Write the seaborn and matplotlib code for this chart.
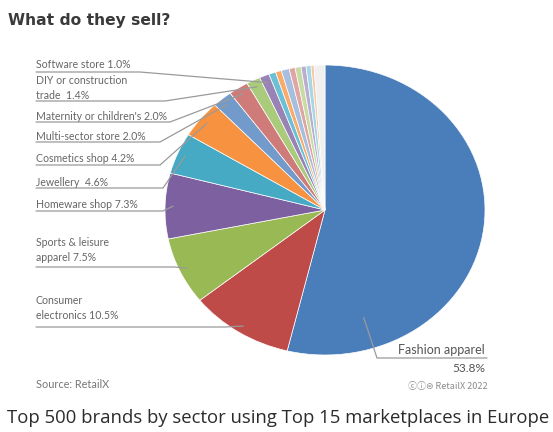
import matplotlib
matplotlib.use("Agg")
import matplotlib.pyplot as plt
import seaborn as sns
import numpy as np
from matplotlib.lines import Line2D

# --- data -------------------------------------------------------------
sectors = [
    "Fashion apparel", "Consumer electronics", "Sports & leisure apparel",
    "Homeware shop", "Jewellery", "Cosmetics shop", "Multi-sector store",
    "Maternity or children's", "DIY or construction trade", "Software store",
]
shares = [53.8, 10.5, 7.5, 7.3, 4.6, 4.2, 2.0, 2.0, 1.4, 1.0]
# smaller unlabelled sectors, in drawing order
minor_shares = [0.7, 0.6, 0.8, 0.6, 0.6, 0.5, 0.5, 0.3, 1.1]

label_texts = [
    "Fashion apparel\n53.8%", "Consumer\nelectronics 10.5%",
    "Sports & leisure\napparel 7.5%", "Homeware shop 7.3%", "Jewellery  4.6%",
    "Cosmetics shop 4.2%", "Multi-sector store 2.0%",
    "Maternity or children's 2.0%", "DIY or construction\ntrade  1.4%",
    "Software store 1.0%",
]

slice_colors = [
    "#4A7EBB", "#BE4B48", "#98B954", "#7D60A0", "#46AAC5", "#F69240",
    "#729ACA", "#CF7B79", "#AACB7B", "#9983B5",
    "#6CC0D6", "#F9AB6B", "#A7BFDE", "#DFA6A4", "#C8DBA5", "#BAAED0",
    "#A6D7E6", "#FBC7A0", "#F0F0F0",
]

# --- figure -----------------------------------------------------------
sns.set_theme(style="white")
plt.rcParams["font.family"] = ["Lato", "DejaVu Sans"]

W, H = 553, 432
fig = plt.figure(figsize=(W / 100, H / 100), dpi=100)
fig.patch.set_facecolor("white")


def fx(x):
    return x / W


def fy(y):
    return 1 - y / H


# pie axes: centre (325, 210) px, radii 160 x 145 px
cx, cy, rx, ry = 325, 210, 160, 145
ax = fig.add_axes([fx(cx - rx), fy(cy + ry), 2 * rx / W, 2 * ry / H])
values = shares + minor_shares
palette = sns.color_palette(slice_colors)
wedges, _ = ax.pie(values, colors=palette, startangle=90, counterclock=False,
                   wedgeprops=dict(edgecolor="white", linewidth=0.5))
ax.set_aspect("auto")
ax.set_xlim(-1, 1)
ax.set_ylim(-1, 1)
ax.axis("off")

# --- title, caption, source -------------------------------------------
fig.text(fx(8), fy(21), "What do they sell?", fontsize=11.2, fontweight="bold",
         color="#3a3a3a", ha="left", va="center", family=["DejaVu Sans"])
fig.text(fx(7), fy(418),
         "Top 500 brands by sector using Top 15 marketplaces in Europe",
         fontsize=13.3, color="#2b2b2b", ha="left", va="center",
         family=["Open Sans", "DejaVu Sans"])
fig.text(fx(36), fy(384), "Source: RetailX", fontsize=7.8, color="#777777",
         ha="left", va="center")
fig.text(fx(488), fy(387), "\u24d2\u24d8\u229c RetailX 2022", fontsize=6.5,
         color="#8a8a8a", ha="right", va="center",
         family=["Noto Sans CJK JP", "DejaVu Sans"])


def anchor_px(idx, r=0.95, frac=0.5):
    """Pixel position inside wedge idx (image coords, y downwards)."""
    w = wedges[idx]
    a = np.deg2rad(w.theta1 + frac * (w.theta2 - w.theta1))
    disp = ax.transData.transform((r * np.cos(a), r * np.sin(a)))
    fxy = fig.transFigure.inverted().transform(disp)
    return fxy[0] * W, (1 - fxy[1]) * H


line_kw = dict(color="#9a9a9a", linewidth=0.9, transform=fig.transFigure)
text_kw = dict(fontsize=7.6, color="#666666", ha="left", va="center")

# left-hand labels: (index, text centre y, underline y, elbow x)
left_layout = [
    (9, 65, 72, 140),
    (8, 88, 101, 165),
    (7, 116, 122, 170),
    (6, 136, 142, 160),
    (5, 159, 165, 160),
    (4, 182, 188, 163),
    (3, 205, 211, 163),
    (2, 250, 267, 175),
    (1, 308, 327, 225),
]
for idx, ty, uy, ex in left_layout:
    fig.text(fx(36), fy(ty), label_texts[idx], linespacing=1.35, **text_kw)
    axp, ayp = anchor_px(idx)
    fig.add_artist(Line2D([fx(36), fx(ex), fx(axp)],
                          [fy(uy), fy(uy), fy(ayp)], **line_kw))

# fashion apparel label on the lower right
fig.text(fx(485), fy(350), "Fashion apparel", fontsize=9, color="#555555",
         ha="right", va="center")
fig.text(fx(485), fy(368), "53.8%", fontsize=8.6, color="#555555",
         ha="right", va="center")
fax, fay = anchor_px(0, r=0.78, frac=0.164)
fig.add_artist(Line2D([fx(487), fx(377), fx(fax)],
                      [fy(358), fy(358), fy(fay)], **line_kw))

fig.savefig("out.png", dpi=100, facecolor="white")
